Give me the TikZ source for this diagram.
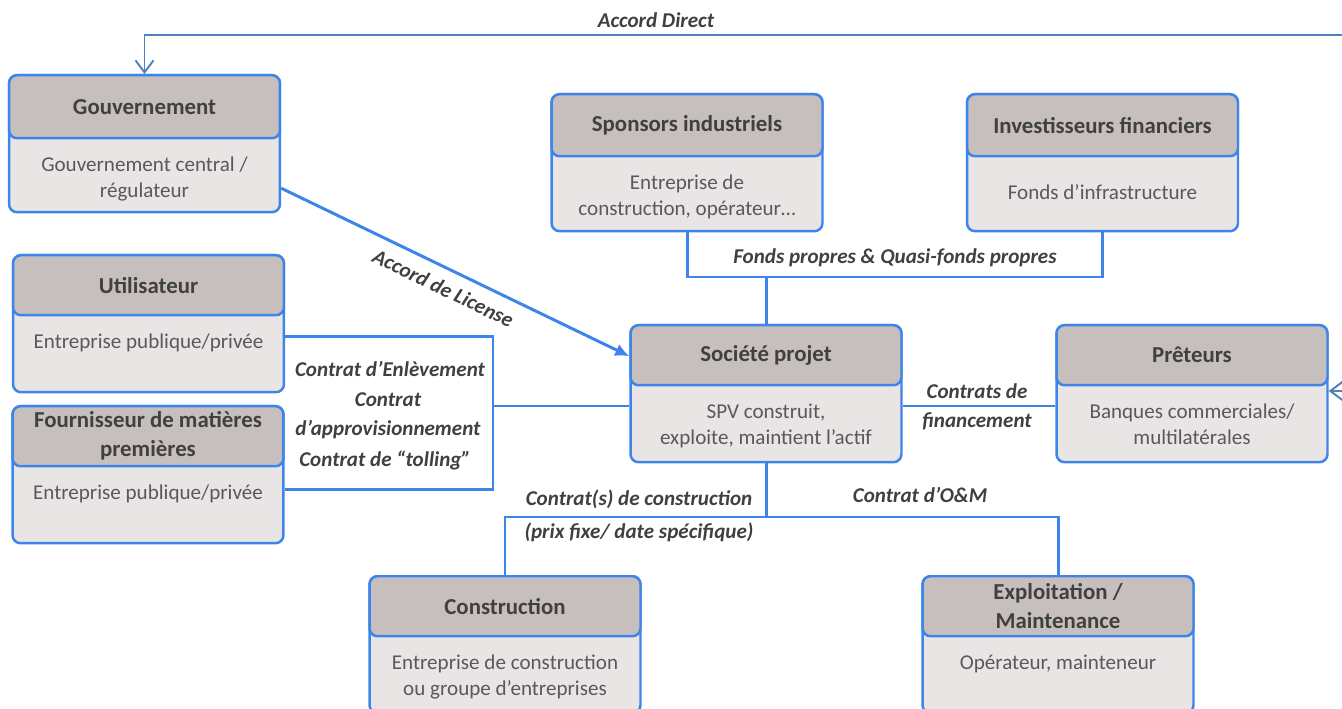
\documentclass[tikz,border=0pt]{standalone}
\usepackage{fontspec}
\setmainfont{Carlito}
\usetikzlibrary{calc,arrows.meta}

\definecolor{boxblue}{RGB}{61,133,232}
\definecolor{lineblue}{RGB}{79,129,189}
\definecolor{headgray}{RGB}{198,191,189}
\definecolor{bodygray}{RGB}{232,229,228}
\definecolor{headtext}{RGB}{64,64,64}
\definecolor{bodytext}{RGB}{89,89,89}

\begin{document}
\begin{tikzpicture}[x=0.02cm,y=-0.02cm,
  body/.style={draw=boxblue,line width=1.4pt,fill=bodygray,rounded corners=0.16cm,
    minimum width=5.42cm,minimum height=2.74cm,anchor=north,inner sep=0pt},
  head/.style={draw=boxblue,line width=1.4pt,fill=headgray,rounded corners=0.16cm,
    minimum width=5.42cm,minimum height=1.2cm,anchor=north,inner sep=1pt,align=center,
    font=\fontsize{13}{16.5}\selectfont\bfseries,text=headtext},
  info/.style={anchor=north,inner sep=0pt,align=center,yshift=-0.34cm,
    font=\fontsize{12}{14.8}\selectfont,text=bodytext},
  link/.style={draw=boxblue,line width=1.7pt},
  direct/.style={draw=lineblue,line width=1.1pt,-{Straight Barb[length=0.24cm,width=0.36cm]}},
  lbl/.style={inner sep=0pt,align=center,font=\fontsize{12}{16.5}\selectfont\bfseries\itshape,text=headtext}]

\useasboundingbox (0,0) rectangle (1342,709);

% parties
\node[body] (gouv) at (144.5,74) {};
\node[head,minimum height=1.26cm] (gouvH) at (gouv.north) {Gouvernement};
\node[info] (gouvT) at (gouvH.south) {Gouvernement central /\\régulateur};

\node[body] (spons) at (687,93) {};
\node[head,minimum height=1.24cm] (sponsH) at (spons.north) {Sponsors industriels};
\node[info] (sponsT) at (sponsH.south) {Entreprise de\\construction, opérateur…};

\node[body] (invest) at (1102.5,93) {};
\node[head,minimum height=1.24cm] (investH) at (invest.north) {Investisseurs financiers};
\node[info,yshift=-0.2cm] (investT) at (investH.south) {Fonds d’infrastructure};

\node[body] (util) at (148.5,254) {};
\node[head] (utilH) at (util.north) {Utilisateur};
\node[info] (utilT) at (utilH.south) {Entreprise publique/privée};

\node[body] (fourn) at (148,405) {};
\node[head] (fournH) at (fourn.north) {Fournisseur de matières\\premières};
\node[info] (fournT) at (fournH.south) {Entreprise publique/privée};

\node[body] (soc) at (766,324) {};
\node[head] (socH) at (soc.north) {Société projet};
\node[info] (socT) at (socH.south) {SPV construit,\\exploite, maintient l’actif};

\node[body] (pret) at (1192,324) {};
\node[head] (pretH) at (pret.north) {Prêteurs};
\node[info] (pretT) at (pretH.south) {Banques commerciales/\\multilatérales};

\node[body] (constr) at (505,575) {};
\node[head] (constrH) at (constr.north) {Construction};
\node[info] (constrT) at (constrH.south) {Entreprise de construction\\ou groupe d’entreprises};

\node[body] (exploit) at (1058,575) {};
\node[head] (exploitH) at (exploit.north) {Exploitation /\\Maintenance};
\node[info] (exploitT) at (exploitH.south) {Opérateur, mainteneur};

% accord direct
\coordinate (directR) at (1350,35);
\draw[direct] (directR) -| (gouv.north);
\node[lbl] (directL) at (656,20) {Accord Direct};
\coordinate (pretR) at (1350,391);
\draw[direct] (pretR) -- (pretR -| pret.east);

% licence
\draw[link,-{Latex[length=0.28cm,width=0.26cm]}] ($(gouv.east)+(0,44.5)$) -- ($(soc.west)+(0,-37.5)$)
  node[lbl,pos=0.49,sloped,below=6pt] (licL) {Accord de License};

% fonds propres
\coordinate (equity) at (766,277);
\draw[link] (spons.south) |- (equity) -| (invest.south);
\draw[link] (equity) -- (soc.north);
\node[lbl] (equityL) at (895,258) {Fonds propres \& Quasi-fonds propres};

% enlevement / approvisionnement
\coordinate (offtake) at (493,406);
\draw[link] ($(util.east)+(0,12.5)$) -| (offtake) |- ($(fourn.east)+(0,14.5)$);
\draw[link] (offtake) -- (offtake -| soc.west);
\node[lbl] (offtakeL) at (390,369) {Contrat d’Enlèvement};
\node[lbl] (supplyL) at (388,415.5) {Contrat\\d’approvisionnement};
\node[lbl] (tollingL) at (385,461) {Contrat de “tolling”};

% financement
\draw[link] (offtake -| soc.east) -- (offtake -| pret.west);
\node[lbl] (loanL) at (977,407) {Contrats de\\financement};

% construction et O&M
\coordinate (epc) at (766,517);
\draw[link] (soc.south) -- (epc);
\draw[link] (constr.north) |- (epc) -| (exploit.north);
\node[lbl] (epcL) at (639,499) {Contrat(s) de construction};
\node[lbl] (priceL) at (639,532) {(prix fixe/ date spécifique)};
\node[lbl] (omL) at (920,495) {Contrat d’O\&M};
\end{tikzpicture}
\end{document}
